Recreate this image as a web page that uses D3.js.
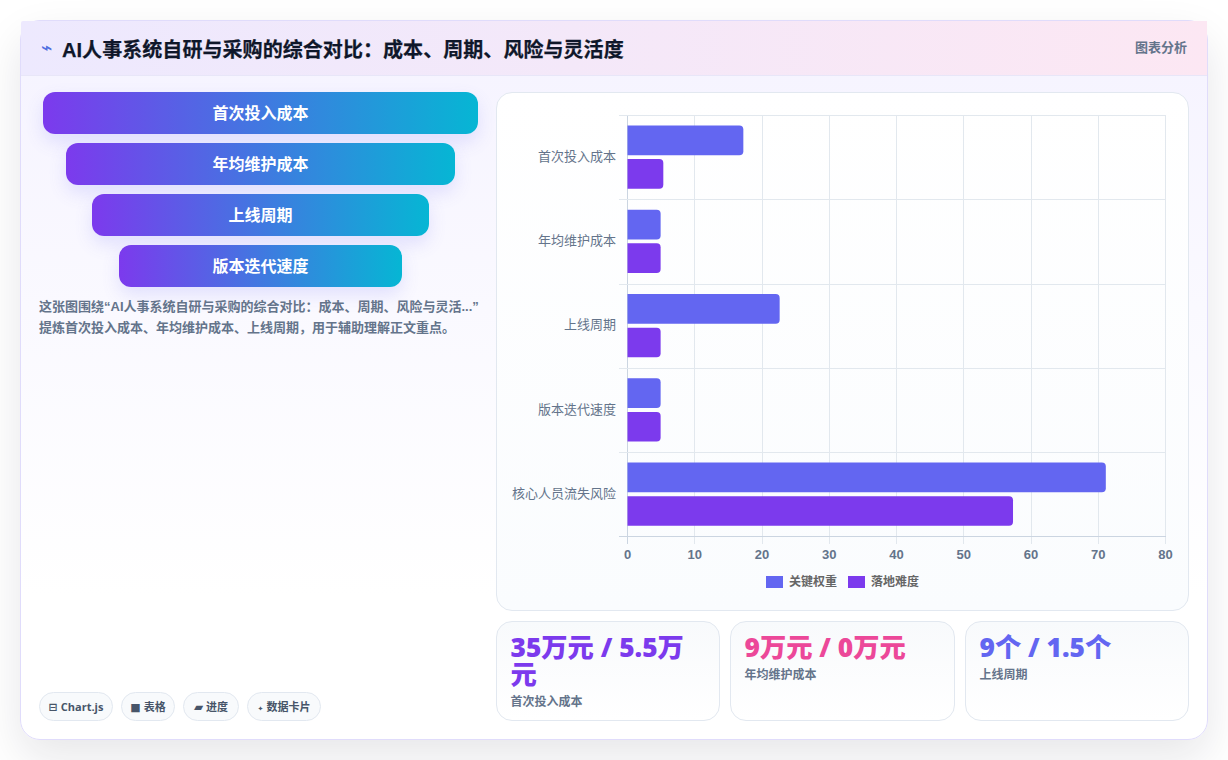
<!DOCTYPE html>
<html lang="zh-CN">
<head>
<meta charset="utf-8">
<title>AI人事系统自研与采购的综合对比</title>
<script src="https://cdn.jsdelivr.net/npm/d3@7/dist/d3.min.js"></script>
<style>
  * { box-sizing: border-box; }
  html, body { margin: 0; width: 1228px; height: 760px; overflow: hidden; background: #fff; }
  body { font-family: "Liberation Sans", "Noto Sans CJK SC", sans-serif; position: relative; }
  .card { position: absolute; left: 20px; top: 20px; width: 1188px; height: 720px; border: 1px solid #e0dcfb;
    border-radius: 20px; background: linear-gradient(180deg, #f5f3ff 0%, #ffffff 80%);
    box-shadow: 0 18px 44px rgba(15,23,42,.10); }
  .head { position: absolute; left: 0; top: 0; width: 1186px; height: 55px; border-bottom: 1px solid #e8e6f8;
    background: linear-gradient(90deg, #ede9fe, #fce7f3); border-radius: 2px 0 0 0; }
  .head .ico { position: absolute; left: 20px; top: 14px; font: 700 19px/24px "DejaVu Sans"; color: #4f6fe0; }
  .head h1 { position: absolute; left: 41px; top: 15px; margin: 0; font-size: 20px; letter-spacing: .06px; line-height: 28px; font-weight: 700; color: #0f172a; white-space: nowrap; -webkit-text-stroke: .25px #0f172a; }
  .head .tag { position: absolute; right: 20px; top: 18px; font-size: 13px; line-height: 18px; font-weight: 700; color: #64748b; }
  .stage { position: absolute; height: 42px; border-radius: 12px; color: #fff; font-size: 16px; font-weight: 700;
    line-height: 43px; text-align: center; background: linear-gradient(90deg, #7c3aed, #06b6d4);
    box-shadow: 0 8px 18px rgba(99,102,241,.16); }
  .note { position: absolute; left: 39px; top: 296px; width: 445px; font-size: 13px; line-height: 21px; font-weight: 700; color: #64748b; }
  .pill { position: absolute; top: 692px; height: 29px; border: 1px solid #e2e8f0; border-radius: 15px; background: #f8fafc;
    font: 700 11px/27px "Open Sans", "Noto Sans CJK SC", sans-serif; color: #475569; text-align: center; white-space: nowrap; }
  .pill i { font-style: normal; font-family: "DejaVu Sans"; margin-right: 3px; }
  .panel { position: absolute; left: 496px; top: 92px; width: 693px; height: 519px; border: 1px solid #e2e8f0; border-radius: 16px;
    background: linear-gradient(180deg, #ffffff, #fafcfe); }
  svg { position: absolute; left: 0; top: 0; }
  .kpi { position: absolute; top: 621px; height: 100px; border: 1px solid #e2e8f0; border-radius: 16px;
    background: linear-gradient(180deg, #f8fafc, #ffffff); padding: 12px 13.5px; }
  .kpi b { display: block; font: 800 26.3px/27px "Open Sans", "Noto Sans CJK SC", sans-serif; white-space: normal; }
  .kpi span { display: block; margin-top: 6px; font-size: 12px; line-height: 16px; font-weight: 700; color: #64748b; }
</style>
</head>
<body>
<script>
// Chart content
const titleIcon = "⌁";
const titleText = "AI人事系统自研与采购的综合对比：成本、周期、风险与灵活度";
const headTag = "图表分析";
const stageNames = ["首次投入成本", "年均维护成本", "上线周期", "版本迭代速度"];
const stageShares = [100, 89.5, 77.5, 65];
const noteLines = [
  "这张图围绕“AI人事系统自研与采购的综合对比：成本、周期、风险与灵活...”",
  "提炼首次投入成本、年均维护成本、上线周期，用于辅助理解正文重点。"
];
const pillIcons = ["⊟", "■", "▰", "✦"];
const pillIconSizes = [11, 11, 12, 7];
const pillLabels = ["Chart.js", "表格", "进度", "数据卡片"];
const categories = ["首次投入成本", "年均维护成本", "上线周期", "版本迭代速度", "核心人员流失风险"];
const seriesNames = ["关键权重", "落地难度"];
const seriesColors = ["#6366f1", "#7c3aed"];
const keyWeight = [17.3, 5, 22.7, 5, 71.2];
const landingDifficulty = [5.4, 5, 5, 5, 57.4];
const valueTicks = [0, 10, 20, 30, 40, 50, 60, 70, 80];
const kpiValues = ["35万元 / 5.5万元", "9万元 / 0万元", "9个 / 1.5个"];
const kpiLabels = ["首次投入成本", "年均维护成本", "上线周期"];
const kpiColors = ["#7c3aed", "#ec4899", "#6366f1"];

const body = d3.select("body");
const card = body.append("div").attr("class", "card");
const head = card.append("div").attr("class", "head");
head.append("span").attr("class", "ico").text(titleIcon);
head.append("h1").text(titleText);
head.append("span").attr("class", "tag").text(headTag);

// Funnel of stages on the left, centred on one axis
const stageWidth = d3.scaleLinear().domain([0, 100]).range([0, 435]);
const stageTop = d3.scalePoint().domain(stageNames).range([92, 245]);
body.selectAll(".stage").data(stageNames).join("div")
  .attr("class", "stage")
  .style("left", (d, i) => (260.5 - stageWidth(stageShares[i]) / 2) + "px")
  .style("width", (d, i) => stageWidth(stageShares[i]) + "px")
  .style("top", d => stageTop(d) + "px")
  .text(d => d);

body.append("div").attr("class", "note").selectAll("div").data(noteLines).join("div")
  .style("white-space", "nowrap").text(d => d);

const pillBox = [[39, 74], [121, 54], [183, 56], [247, 74]];
const pills = body.selectAll(".pill").data(pillLabels).join("div")
  .attr("class", "pill")
  .style("left", (d, i) => pillBox[i][0] + "px")
  .style("width", (d, i) => pillBox[i][1] + "px");
pills.append("i").style("font-size", (d, i) => pillIconSizes[i] + "px").text((d, i) => pillIcons[i]);
pills.append("span").text(d => d);

body.append("div").attr("class", "panel");

// Grouped horizontal bars
const plot = { left: 627, right: 1165, top: 115, bottom: 536.3 };
const svg = body.append("svg").attr("width", 1228).attr("height", 760);
const x = d3.scaleLinear().domain([0, 80]).range([plot.left, plot.right]);
const y = d3.scaleBand().domain(categories).range([plot.top, plot.bottom]);
const inner = d3.scaleBand().domain(seriesNames).range([0, y.bandwidth()]).paddingInner(0.1176).paddingOuter(0.31);

const grid = svg.append("g").attr("fill", "none").attr("shape-rendering", "crispEdges");
grid.selectAll(".v").data(valueTicks).join("line").attr("class", "v")
  .attr("x1", d => Math.round(x(d)) + .5).attr("x2", d => Math.round(x(d)) + .5)
  .attr("y1", plot.top).attr("y2", plot.bottom + 8)
  .attr("stroke", d => d === 0 ? "#cbd5e1" : "#e2e8ee");
const rowEdges = categories.map(c => y(c)).concat(plot.bottom);
grid.selectAll(".h").data(rowEdges).join("line").attr("class", "h")
  .attr("x1", plot.left - 8).attr("x2", plot.right + 1)
  .attr("y1", d => Math.round(d) + .5).attr("y2", d => Math.round(d) + .5)
  .attr("stroke", (d, i) => i === categories.length ? "#cbd5e1" : "#e2e8ee");

// Bars start flat on the zero line and round only at the value end
function barPath(x0, x1, y0, h, r) {
  const p = d3.path();
  p.moveTo(x0, y0);
  p.lineTo(x1 - r, y0);
  p.quadraticCurveTo(x1, y0, x1, y0 + r);
  p.lineTo(x1, y0 + h - r);
  p.quadraticCurveTo(x1, y0 + h, x1 - r, y0 + h);
  p.lineTo(x0, y0 + h);
  p.closePath();
  return p.toString();
}
[keyWeight, landingDifficulty].forEach((values, s) => {
  svg.append("g").selectAll("path").data(values).join("path")
    .attr("fill", seriesColors[s])
    .attr("d", (v, i) => barPath(x(0) + .5, x(v), y(categories[i]) + inner(seriesNames[s]), inner.bandwidth(), 4));
});

const xAxis = d3.axisBottom(x).tickValues(valueTicks).tickSize(0).tickPadding(0);
const gx = svg.append("g").attr("transform", `translate(0,${plot.bottom + 13})`).call(xAxis);
gx.select(".domain").remove();
gx.selectAll("text").attr("font-family", '"Liberation Sans"').attr("font-size", 13).attr("font-weight", 700)
  .attr("fill", "#64748b").attr("dy", "0.71em");

const yAxis = d3.axisLeft(y).tickSize(0).tickPadding(0);
const gy = svg.append("g").attr("transform", `translate(${plot.left - 11},-0.5)`).call(yAxis);
gy.select(".domain").remove();
gy.selectAll("text").attr("font-family", '"Noto Sans CJK SC"').attr("font-size", 13).attr("fill", "#64748b");

// Legend under the plot
const legend = svg.append("g").selectAll("g").data(seriesNames).join("g")
  .attr("transform", (d, i) => `translate(${766 + i * 82},576)`);
legend.append("rect").attr("width", 17).attr("height", 12).attr("fill", (d, i) => seriesColors[i]);
legend.append("text").attr("x", 23).attr("y", 9.5).attr("font-size", 12).attr("font-weight", 700)
  .attr("font-family", '"Noto Sans CJK SC"').attr("fill", "#666").text(d => d);

// Summary cards
const kpiBox = [[496, 224], [730, 225], [965, 224]];
const kpi = body.selectAll(".kpi").data(kpiValues).join("div")
  .attr("class", "kpi")
  .style("left", (d, i) => kpiBox[i][0] + "px")
  .style("width", (d, i) => kpiBox[i][1] + "px");
kpi.append("b").style("color", (d, i) => kpiColors[i]).text(d => d);
kpi.append("span").text((d, i) => kpiLabels[i]);
</script>
</body>
</html>
